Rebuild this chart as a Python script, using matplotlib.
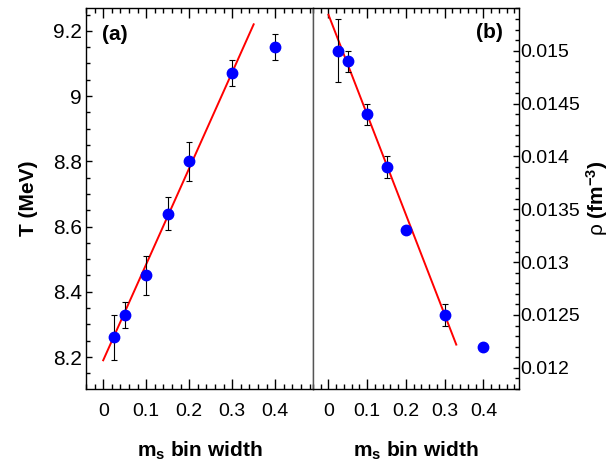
import numpy as np
import matplotlib
matplotlib.use('Agg')
import matplotlib.pyplot as plt
from matplotlib.ticker import MultipleLocator

plt.rcParams['font.family'] = ['Liberation Sans', 'DejaVu Sans']
plt.rcParams['mathtext.fontset'] = 'custom'
plt.rcParams['mathtext.rm'] = 'Liberation Sans'
plt.rcParams['mathtext.bf'] = 'Liberation Sans:bold'

# bin widths
bin_width = [0.025, 0.05, 0.1, 0.15, 0.2, 0.3, 0.4]

# (a) temperature
T_vals = [8.26, 8.33, 8.45, 8.64, 8.80, 9.07, 9.15]
T_err = [0.07, 0.04, 0.06, 0.05, 0.06, 0.04, 0.04]
T_fit_x = [0.0, 0.35]
T_fit_y = [8.19, 9.22]

# (b) density
rho_vals = [0.01500, 0.01490, 0.01440, 0.01390, 0.01330, 0.01250, 0.01220]
rho_err = [0.0003, 0.0001, 0.0001, 0.0001, 0.0, 0.0001, 0.0]
rho_fit_x = [0.0, 0.33]
rho_fit_y = [0.01534, 0.01222]

fig = plt.figure(figsize=(6.15, 4.65), dpi=100)
axa = fig.add_axes([86/615, 76/465, 227/615, 381/465])
axb = fig.add_axes([313/615, 76/465, 206/615, 381/465])

for ax in (axa, axb):
    for s in ax.spines.values():
        s.set_linewidth(1.0)

# panel a
axa.plot(T_fit_x, T_fit_y, color='red', lw=1.4, zorder=2)
axa.errorbar(bin_width, T_vals, yerr=T_err, fmt='o', color='blue', ms=7.5,
             ecolor='black', elinewidth=0.8, capsize=2, capthick=0.8, zorder=3)
axa.set_xlim(-0.04, 0.488)
axa.set_ylim(8.102, 9.27)
axa.xaxis.set_minor_locator(MultipleLocator(0.02))
axa.yaxis.set_minor_locator(MultipleLocator(0.05))
axa.set_xticks([0, 0.1, 0.2, 0.3, 0.4])
axa.set_xticklabels(['0', '0.1', '0.2', '0.3', '0.4'])
axa.set_yticks([8.2, 8.4, 8.6, 8.8, 9.0, 9.2])
axa.set_yticklabels(['8.2', '8.4', '8.6', '8.8', '9', '9.2'])
axa.tick_params(axis='x', which='both', direction='in', top=True, bottom=True, labelsize=14, pad=10)
axa.tick_params(axis='x', which='major', length=7, width=1)
axa.tick_params(axis='x', which='minor', length=3.5, width=1)
axa.tick_params(axis='y', which='both', direction='in', left=True, right=False, labelsize=15, pad=3)
axa.tick_params(axis='y', which='major', length=4.5, width=1)
axa.tick_params(axis='y', which='minor', length=3, width=1)
axa.spines['right'].set_color('#555555')
axa.set_xlabel(r'$\mathbf{m_s}$ bin width', fontsize=15, fontweight='bold', labelpad=14)
axa.set_ylabel('T (MeV)', fontsize=15, fontweight='bold', labelpad=11)
axa.text(0.07, 0.93, '(a)', transform=axa.transAxes, fontsize=15, fontweight='bold',
         ha='left', va='center')

# panel b
axb.plot(rho_fit_x, rho_fit_y, color='red', lw=1.4, zorder=2)
rho_err_arr = np.array(rho_err)
axb.errorbar(bin_width, rho_vals, yerr=np.where(rho_err_arr > 0, rho_err_arr, np.nan),
             fmt='o', color='blue', ms=7.5, ecolor='black', elinewidth=0.8,
             capsize=2, capthick=0.8, zorder=3)
axb.set_xlim(-0.04, 0.492)
axb.set_ylim(0.0118, 0.015404)
axb.set_xticks([0, 0.1, 0.2, 0.3, 0.4])
axb.set_xticklabels(['0', '0.1', '0.2', '0.3', '0.4'])
axb.xaxis.set_minor_locator(MultipleLocator(0.02))
axb.set_yticks([0.012, 0.0125, 0.013, 0.0135, 0.014, 0.0145, 0.015])
axb.set_yticklabels(['0.012', '0.0125', '0.013', '0.0135', '0.014', '0.0145', '0.015'])
axb.yaxis.set_minor_locator(MultipleLocator(0.0001))
axb.yaxis.tick_right()
axb.yaxis.set_label_position('right')
axb.tick_params(axis='x', which='both', direction='in', top=True, bottom=True, labelsize=14, pad=10)
axb.tick_params(axis='x', which='major', length=7, width=1)
axb.tick_params(axis='x', which='minor', length=3.5, width=1)
axb.tick_params(axis='y', which='both', direction='in', left=False, right=True, labelsize=14, pad=1)
axb.tick_params(axis='y', which='major', length=4.5, width=1)
axb.tick_params(axis='y', which='minor', length=3, width=1)
axb.spines['left'].set_color('#555555')
axb.set_xlabel(r'$\mathbf{m_s}$ bin width', fontsize=15, fontweight='bold', labelpad=14)
axb.set_ylabel(r'ρ $\mathbf{(fm^{-3})}$', fontsize=15, labelpad=3)
axb.text(0.92, 0.935, '(b)', transform=axb.transAxes, fontsize=15, fontweight='bold',
         ha='right', va='center')

fig.savefig('out.png', dpi=100)
